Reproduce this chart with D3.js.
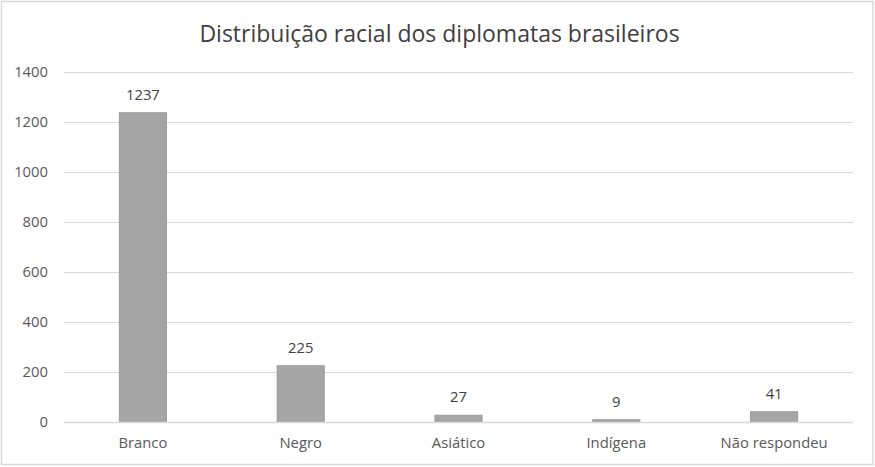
<!DOCTYPE html>
<html>
<head>
<meta charset="utf-8">
<script src="https://cdn.jsdelivr.net/npm/d3@7"></script>
<style>
  html, body { margin: 0; padding: 0; background: #fff; }
  svg { display: block; }
</style>
</head>
<body>
<svg id="chart"></svg>
<script>
const categories = ['Branco', 'Negro', 'Asiático', 'Indígena', 'Não respondeu'];
const values = [1237, 225, 27, 9, 41];
const yTicks = [0, 200, 400, 600, 800, 1000, 1200, 1400];
const title = 'Distribuição racial dos diplomatas brasileiros';

const width = 875;
const height = 467;
const margin = { top: 72, right: 22, bottom: 45, left: 64 };
const font = '"Open Sans", "Noto Sans", sans-serif';
const labelSize = 14.8;

const svg = d3.select('#chart')
  .attr('width', width)
  .attr('height', height);

// outer frame
svg.append('rect')
  .attr('x', 1.5)
  .attr('y', 1.5)
  .attr('width', width - 3.5)
  .attr('height', height - 4)
  .attr('fill', '#fff')
  .attr('stroke', '#d9d9d9')
  .attr('stroke-width', 1.5);

const x = d3.scaleBand()
  .domain(categories)
  .range([margin.left, width - margin.right])
  .paddingInner(0.695)
  .paddingOuter(0.3475);

const y = d3.scaleLinear()
  .domain([0, 1400])
  .range([height - margin.bottom, margin.top]);

// gridlines
svg.append('g')
  .selectAll('line')
  .data(yTicks)
  .enter()
  .append('line')
  .attr('x1', margin.left)
  .attr('x2', width - margin.right)
  .attr('y1', (d) => Math.round(y(d)) + 0.5)
  .attr('y2', (d) => Math.round(y(d)) + 0.5)
  .attr('stroke', '#d9d9d9')
  .attr('stroke-width', 1);

// y axis labels
const yAxis = svg.append('g')
  .attr('transform', `translate(${margin.left},0)`)
  .call(d3.axisLeft(y).tickValues(yTicks).tickFormat(d3.format('d')).tickSize(0).tickPadding(16));
yAxis.select('.domain').remove();
yAxis.selectAll('text')
  .attr('font-family', font)
  .attr('font-size', labelSize)
  .attr('fill', '#595959');

// bars
svg.append('g')
  .selectAll('rect')
  .data(values)
  .enter()
  .append('rect')
  .attr('x', (d, i) => x(categories[i]) + 0.5)
  .attr('y', (d) => y(d))
  .attr('width', x.bandwidth() - 1)
  .attr('height', (d) => y(0) - y(d))
  .attr('fill', '#a5a5a5')
  .attr('stroke', '#9a9a9a')
  .attr('stroke-width', 1);

// zero line on top
svg.append('line')
  .attr('x1', margin.left)
  .attr('x2', width - margin.right)
  .attr('y1', Math.round(y(0)) + 0.5)
  .attr('y2', Math.round(y(0)) + 0.5)
  .attr('stroke', '#d9d9d9')
  .attr('stroke-width', 1.5);

// data labels
svg.append('g')
  .selectAll('text')
  .data(values)
  .enter()
  .append('text')
  .attr('x', (d, i) => x(categories[i]) + x.bandwidth() / 2)
  .attr('y', (d) => y(d) - 13)
  .attr('text-anchor', 'middle')
  .attr('font-family', font)
  .attr('font-size', labelSize)
  .attr('fill', '#404040')
  .text((d) => d);

// x axis labels
const xAxis = svg.append('g')
  .attr('transform', `translate(0,${y(0)})`)
  .call(d3.axisBottom(x).tickSize(0).tickPadding(15));
xAxis.select('.domain').remove();
xAxis.selectAll('text')
  .attr('font-family', font)
  .attr('font-size', labelSize)
  .attr('fill', '#595959');

// title
svg.append('text')
  .attr('x', width / 2 + 2)
  .attr('y', 42)
  .attr('text-anchor', 'middle')
  .attr('font-family', font)
  .attr('font-size', 23)
  .attr('fill', '#404040')
  .text(title);
</script>
</body>
</html>
